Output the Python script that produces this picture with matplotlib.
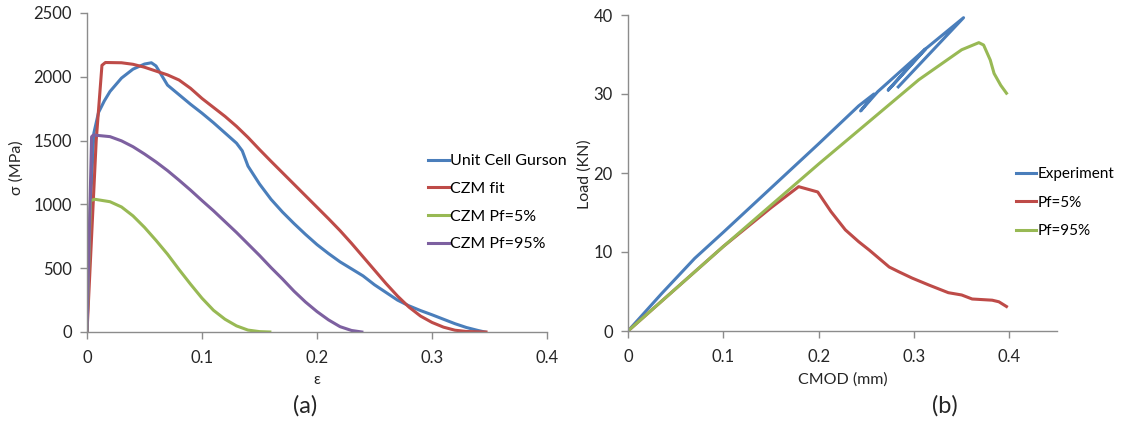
import matplotlib.pyplot as plt

plt.rcParams['font.family'] = ['Lato', 'DejaVu Sans']

# (a) traction-separation curves
gurson_eps = [0, 0.003, 0.006, 0.01, 0.015, 0.02, 0.03, 0.04, 0.05, 0.056, 0.06, 0.065,
              0.07, 0.08, 0.09, 0.10, 0.11, 0.12, 0.13, 0.135, 0.14, 0.15, 0.16, 0.17,
              0.18, 0.19, 0.20, 0.21, 0.22, 0.23, 0.24, 0.25, 0.26, 0.27, 0.28, 0.29,
              0.30, 0.31, 0.32, 0.33, 0.34, 0.346]
gurson_sig = [0, 1000, 1560, 1720, 1810, 1885, 1990, 2060, 2100, 2110, 2085, 2010,
              1935, 1860, 1785, 1715, 1640, 1560, 1480, 1420, 1300, 1160, 1040, 940,
              850, 765, 685, 615, 550, 495, 440, 370, 310, 250, 205, 168,
              135, 100, 65, 35, 12, 0]

fit_eps = [0, 0.008, 0.013, 0.016, 0.03, 0.04, 0.05, 0.06, 0.07, 0.08, 0.09, 0.10, 0.11,
           0.12, 0.13, 0.14, 0.15, 0.16, 0.17, 0.18, 0.19, 0.20, 0.21, 0.22, 0.23, 0.24,
           0.25, 0.26, 0.27, 0.28, 0.29, 0.30, 0.31, 0.32, 0.33, 0.347]
fit_sig = [0, 1500, 2090, 2112, 2110, 2098, 2075, 2045, 2015, 1975, 1910, 1830, 1760,
           1690, 1612, 1525, 1430, 1338, 1248, 1158, 1068, 978, 888, 795, 695, 590,
           485, 380, 282, 195, 125, 75, 38, 14, 4, 0]

pf5_eps = [0, 0.003, 0.007, 0.02, 0.03, 0.04, 0.05, 0.06, 0.07, 0.08, 0.09, 0.10, 0.11,
           0.12, 0.13, 0.14, 0.15, 0.159]
pf5_sig = [0, 1030, 1040, 1021, 980, 910, 820, 718, 610, 490, 375, 265, 170,
           100, 48, 15, 3, 0]

pf95_eps = [0, 0.004, 0.0055, 0.02, 0.03, 0.04, 0.05, 0.06, 0.07, 0.08, 0.09, 0.10,
            0.11, 0.12, 0.13, 0.14, 0.15, 0.16, 0.17, 0.18, 0.19, 0.20, 0.21, 0.22,
            0.23, 0.239]
pf95_sig = [0, 1530, 1544, 1531, 1498, 1452, 1395, 1333, 1265, 1190, 1112, 1030,
            950, 865, 780, 690, 600, 505, 415, 320, 235, 160, 95, 42,
            12, 0]

# (b) load vs CMOD
exp_cmod = [0, 0.035, 0.07, 0.1, 0.15, 0.2, 0.242, 0.258, 0.244, 0.262, 0.30, 0.312,
            0.273, 0.312, 0.352, 0.2835]
exp_load = [0, 4.7, 9.2, 12.5, 18.1, 23.7, 28.5, 30.0, 27.85, 30.3, 34.4, 35.7,
            30.5, 35.7, 39.66, 30.9]

p5_cmod = [0, 0.1, 0.15, 0.179, 0.199, 0.213, 0.228, 0.242, 0.253, 0.274, 0.284, 0.298,
           0.316, 0.336, 0.350, 0.361, 0.382, 0.389, 0.397]
p5_load = [0, 10.7, 15.6, 18.27, 17.6, 15.1, 12.8, 11.3, 10.25, 8.1, 7.5, 6.7,
           5.8, 4.85, 4.56, 4.05, 3.9, 3.7, 3.1]

p95_cmod = [0, 0.1, 0.2006, 0.242, 0.305, 0.350, 0.368, 0.373, 0.380, 0.384, 0.391, 0.397]
p95_load = [0, 10.7, 21.2, 25.4, 31.8, 35.6, 36.5, 36.2, 34.3, 32.6, 31.1, 30.1]

blue, red, green, purple = '#4A7EBB', '#BE4B48', '#98B954', '#7D60A0'
axis_grey = '#8C8C8C'
text_col = '#262626'
W, H = 1121, 426

fig = plt.figure(figsize=(W / 100, H / 100), dpi=100)
ax1 = fig.add_axes([87 / W, 1 - 332 / H, (547 - 87) / W, (332 - 13) / H])
ax2 = fig.add_axes([628 / W, 1 - 331 / H, (1057 - 628) / W, (331 - 15) / H])

lw = 2.2
ax1.plot(gurson_eps, gurson_sig, color=blue, lw=lw, label='Unit Cell Gurson')
ax1.plot(fit_eps, fit_sig, color=red, lw=lw, label='CZM fit')
ax1.plot(pf5_eps, pf5_sig, color=green, lw=lw, label='CZM Pf=5%')
ax1.plot(pf95_eps, pf95_sig, color=purple, lw=lw, label='CZM Pf=95%')
ax1.set_xlim(0, 0.4)
ax1.set_ylim(0, 2500)
ax1.set_xticks([0, 0.1, 0.2, 0.3, 0.4], ['0', '0.1', '0.2', '0.3', '0.4'])
ax1.set_yticks(range(0, 2501, 500))

ax2.plot(exp_cmod, exp_load, color=blue, lw=lw, label='Experiment')
ax2.plot(p5_cmod, p5_load, color=red, lw=lw, label='Pf=5%')
ax2.plot(p95_cmod, p95_load, color=green, lw=lw, label='Pf=95%')
ax2.set_xlim(0, 0.45)
ax2.set_ylim(0, 40)
ax2.set_xticks([0, 0.1, 0.2, 0.3, 0.4], ['0', '0.1', '0.2', '0.3', '0.4'])
ax2.set_yticks(range(0, 41, 10))

for ax in (ax1, ax2):
    ax.spines['top'].set_visible(False)
    ax.spines['right'].set_visible(False)
    for s in ('left', 'bottom'):
        ax.spines[s].set_color(axis_grey)
        ax.spines[s].set_linewidth(1.0)
    ax.tick_params(colors=axis_grey, labelcolor=text_col, length=5, width=1.0,
                   labelsize=12, pad=6)
    ax.tick_params(axis='x', pad=8)

# axis titles placed in figure pixels
def ftext(x, y, s, **kw):
    fig.text(x / W, 1 - y / H, s, ha='center', va='center', color=text_col, **kw)

ftext(17, 168, 'σ (MPa)', fontsize=11.5, rotation=90)
ftext(317, 380, 'ε', fontsize=11)
ftext(585, 174, 'Load (KN)', fontsize=11.5, rotation=90)
ftext(843, 380, 'CMOD (mm)', fontsize=11.5)

leg_kw = dict(frameon=False, handlelength=1.3, handletextpad=0.1, borderpad=0,
              borderaxespad=0, labelspacing=0.85, fontsize=11.5, loc='upper left')
fig.legend(handles=ax1.get_lines(), bbox_transform=fig.transFigure,
           bbox_to_anchor=(428 / W, 1 - 154 / H), **leg_kw)
fig.legend(handles=ax2.get_lines(), bbox_transform=fig.transFigure,
           bbox_to_anchor=(1016 / W, 1 - 167 / H), **dict(leg_kw, fontsize=11, labelspacing=0.95))

ftext(305, 406, '(a)', fontsize=17)
ftext(945, 406, '(b)', fontsize=17)

fig.savefig('out.png', dpi=100)
